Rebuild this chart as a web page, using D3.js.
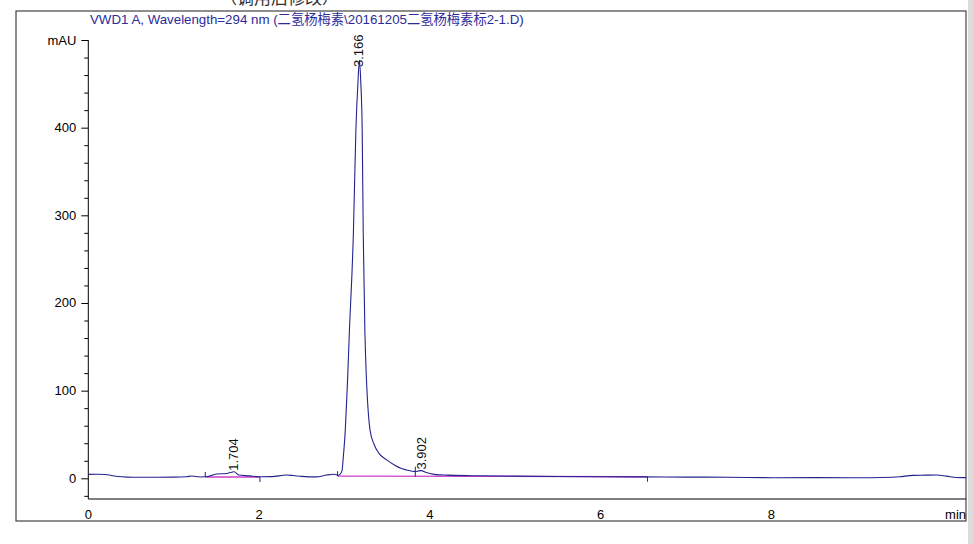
<!DOCTYPE html>
<html>
<head>
<meta charset="utf-8">
<script src="https://cdn.jsdelivr.net/npm/d3@7"></script>
<style>
  body { margin: 0; background: #fff; }
  svg { display: block; font-family: "Liberation Sans", Arial, "Noto Sans CJK SC", sans-serif; }
</style>
</head>
<body>
<svg id="chart" width="973" height="544"></svg>
<script>
// chromatogram trace
const timeMin = [0.00, 0.10, 0.20, 0.27, 0.35, 0.45, 0.60, 0.80, 1.00, 1.15, 1.21, 1.31, 1.40, 1.50, 1.62, 1.68, 1.71, 1.76, 1.89, 2.00,
  2.15, 2.32, 2.40, 2.50, 2.67, 2.79, 2.88, 2.93, 2.96, 2.973, 2.984, 3.01, 3.035, 3.057, 3.105, 3.134, 3.159, 3.175, 3.191, 3.208,
  3.22, 3.24, 3.30, 3.35, 3.40, 3.494, 3.59, 3.66, 3.728, 3.83, 3.87, 3.90, 3.95, 4.05, 4.20, 4.50, 5.00, 5.50, 6.00, 6.50,
  7.00, 7.50, 8.06, 8.50, 9.03, 9.30, 9.50, 9.66, 9.80, 9.94, 10.05, 10.17, 10.28];
const absMAU = [4.5, 4.6, 4.4, 3.2, 2.0, 1.4, 1.2, 1.2, 1.3, 1.8, 2.6, 1.5, 2.0, 4.9, 5.5, 7.0, 7.5, 3.8, 2.8, 1.8,
  1.9, 3.7, 3.2, 2.2, 1.6, 3.7, 4.6, 3.5, 6.0, 9.5, 21, 55, 108, 165, 280, 397, 453, 477, 453, 397,
  280, 165, 55, 38, 29, 21, 15, 11.5, 9.5, 7.6, 8.5, 8.8, 6.8, 4.5, 3.6, 3.0, 2.5, 2.1, 1.8, 1.6,
  1.4, 1.2, 0.7, 0.8, 0.7, 1.0, 1.8, 3.4, 3.6, 3.8, 2.5, 0.9, 0.8];

// integrated peaks
const peakRT = [1.704, 3.166, 3.902];
const peakHeight = [7.5, 477, 8.8];

// drawn baselines (magenta) and their start/end marks
const baseStart = [1.37, 2.92];
const baseEnd = [2.01, 6.55];
const baseStartVal = [1.5, 2.5];
const baseEndVal = [1.5, 1.8];
const valleyMarks = [3.83];
const valleyVals = [7.6];

const xTicks = [0, 2, 4, 6, 8, 10];
const yTicks = [0, 100, 200, 300, 400, 500];

const title = "VWD1 A, Wavelength=294 nm (二氢杨梅素\\20161205二氢杨梅素标2-1.D)";
const note = "（调用后修改）";

const svg = d3.select("#chart");
const frame = { left: 16, right: 966, top: 11, bottom: 521 };
const plot = { left: 88.3, right: 966, top: 40, bottom: 499 };
const traceColor = "#23238f", baseColor = "#cc3fcc";

const x = d3.scaleLinear().domain([0, 10.28]).range([plot.left, plot.right]);
const y = d3.scaleLinear().domain([-23.6, 500]).range([plot.bottom, plot.top]);

// grey strip at the right edge and the cut note at the top
svg.append("rect").attr("x", 968).attr("y", 0).attr("width", 5).attr("height", 544).attr("fill", "#dcdcdc");
svg.append("text").text(note)
  .attr("x", 220).attr("y", 4)
  .attr("font-family", "Noto Sans CJK SC")
  .attr("font-size", 17).attr("fill", "#333");

svg.append("defs").append("clipPath").attr("id", "frame-clip")
  .append("rect")
  .attr("x", frame.left).attr("y", frame.top)
  .attr("width", frame.right - frame.left).attr("height", frame.bottom - frame.top);

svg.append("rect")
  .attr("x", frame.left).attr("y", frame.top)
  .attr("width", frame.right - frame.left).attr("height", frame.bottom - frame.top)
  .attr("fill", "none").attr("stroke", "#444").attr("stroke-width", 1.2);

svg.append("text").text(title)
  .attr("x", 90).attr("y", 24)
  .attr("font-size", 13.3).attr("fill", "#2b2b9b");

// y axis
const yAxis = svg.append("g").attr("transform", `translate(${plot.left},0)`)
  .call(d3.axisLeft(y).tickValues(d3.range(-20, 501, 20)).tickSize(4).tickFormat(""));
yAxis.selectAll(".tick line").filter(d => d % 100 === 0).attr("x2", -7);
yAxis.select(".domain").remove();
svg.append("line").attr("x1", plot.left).attr("x2", plot.left)
  .attr("y1", y(500)).attr("y2", plot.bottom).attr("stroke", "#000");
yAxis.selectAll(".tick line").attr("stroke", "#000");
svg.append("g").selectAll("text").data(yTicks).join("text")
  .attr("x", plot.left - 12).attr("y", d => y(d) + 4.5)
  .attr("text-anchor", "end").attr("font-size", 13)
  .text(d => d === 500 ? "mAU" : d);

// x axis
const xAxis = svg.append("g").attr("transform", `translate(0,${plot.bottom})`)
  .attr("clip-path", "url(#frame-clip)")
  .call(d3.axisBottom(x).tickValues(d3.range(0, 10.3, 0.5)).tickSize(3).tickFormat(""));
xAxis.selectAll(".tick line").filter(d => Math.abs(d % 2) < 1e-6).attr("y2", 7);
xAxis.selectAll(".tick line").attr("stroke", "#000");
xAxis.select(".domain").remove();
svg.append("line").attr("x1", plot.left).attr("x2", plot.right)
  .attr("y1", plot.bottom).attr("y2", plot.bottom).attr("stroke", "#000");
svg.append("g").attr("clip-path", "url(#frame-clip)")
  .selectAll("text").data(xTicks).join("text")
  .attr("x", d => d === 10 ? x(d) + 3 : x(d))
  .attr("y", plot.bottom + 20)
  .attr("text-anchor", d => d === 10 ? "start" : "middle")
  .attr("font-size", 13)
  .text(d => d === 10 ? "min" : d);

// baselines
const g = svg.append("g").attr("clip-path", "url(#frame-clip)");
g.selectAll(".base").data(baseStart).join("line")
  .attr("x1", d => x(d)).attr("y1", (d, i) => y(baseStartVal[i]))
  .attr("x2", (d, i) => x(baseEnd[i])).attr("y2", (d, i) => y(baseEndVal[i]))
  .attr("stroke", baseColor).attr("stroke-width", 1.3);

// trace
const line = d3.line().x(d => x(d[0])).y(d => y(d[1])).curve(d3.curveMonotoneX);
g.append("path").datum(d3.zip(timeMin, absMAU))
  .attr("d", line).attr("fill", "none")
  .attr("stroke", traceColor).attr("stroke-width", 1.1);

// peak start / end / valley marks
g.selectAll(".smark").data(baseStart).join("line")
  .attr("x1", d => x(d)).attr("x2", d => x(d))
  .attr("y1", (d, i) => y(baseStartVal[i]) - 5).attr("y2", (d, i) => y(baseStartVal[i]))
  .attr("stroke", traceColor);
g.selectAll(".emark").data(baseEnd).join("line")
  .attr("x1", d => x(d)).attr("x2", d => x(d))
  .attr("y1", (d, i) => y(baseEndVal[i])).attr("y2", (d, i) => y(baseEndVal[i]) + 5)
  .attr("stroke", traceColor);
g.selectAll(".vmark").data(valleyMarks).join("line")
  .attr("x1", d => x(d)).attr("x2", d => x(d))
  .attr("y1", (d, i) => y(valleyVals[i]) - 5).attr("y2", (d, i) => y(valleyVals[i]) + 5)
  .attr("stroke", traceColor);

// retention time labels, kept inside the plot below the title
g.selectAll(".rt").data(peakRT).join("text")
  .attr("transform", (d, i) => {
    const base = Math.max(y(peakHeight[i]) - 1, 67);
    return `translate(${x(d) + 4.5},${base}) rotate(-90)`;
  })
  .attr("font-size", 13).attr("fill", "#111")
  .text(d => d.toFixed(3));
</script>
</body>
</html>
